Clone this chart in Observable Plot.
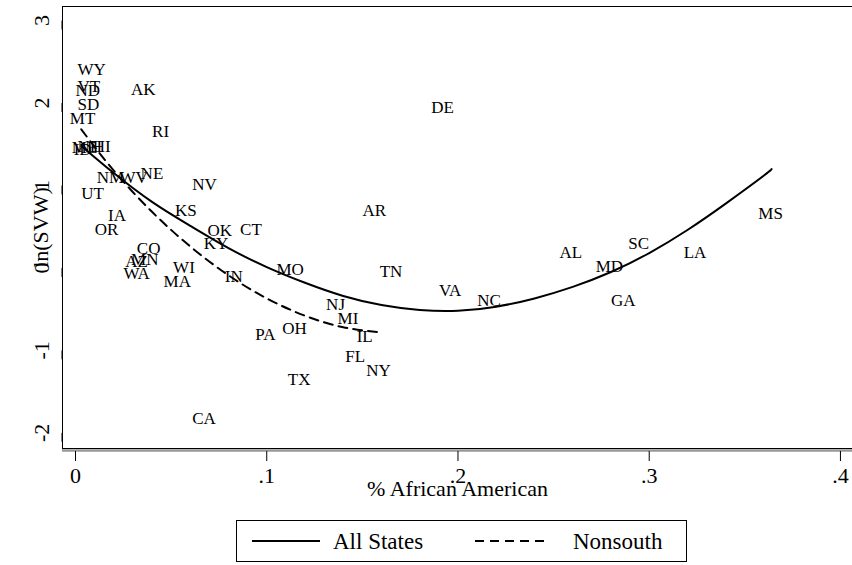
<!DOCTYPE html>
<html><head><meta charset="utf-8">
<script src="https://cdn.jsdelivr.net/npm/d3@7"></script>
<script src="https://cdn.jsdelivr.net/npm/@observablehq/plot@0.6"></script>
<style>
body{margin:0;background:#fff;font-family:'Liberation Serif','Times New Roman',serif;}
#wrap{position:relative;width:852px;height:565px;overflow:hidden;background:#fff;}
#chart{position:absolute;left:0;top:0;}
#legend{position:absolute;left:236px;top:520px;}
svg text{font-family:'Liberation Serif','Times New Roman',serif;}
</style></head><body><div id="wrap"><div id="chart"></div><div id="legend"></div></div>
<script>
// State labels, % African American (x) and ln(SVW) (y)
const states = ["WY","VT","ND","AK","SD","MT","DE","RI","ME","ID","NH","HI","NE","NM","WV","NV","UT","AR","KS","IA","OR","OK","CT","KY","CO","AZ","MN","WA","WI","MA","MO","TN","IN","VA","NC","NJ","MI","IL","PA","OH","FL","NY","TX","CA","AL","SC","MD","GA","LA","MS"];
const pctBlack = [0.000,0.000,-0.001,0.028,0.000,-0.004,0.185,0.039,-0.003,-0.002,0.000,0.008,0.033,0.010,0.022,0.060,0.002,0.149,0.051,0.016,0.009,0.068,0.085,0.066,0.031,0.025,0.028,0.024,0.050,0.045,0.104,0.158,0.077,0.189,0.209,0.130,0.136,0.146,0.093,0.107,0.140,0.151,0.110,0.060,0.252,0.288,0.271,0.279,0.317,0.356];
const lnSVW = [2.40,2.20,2.15,2.16,1.98,1.81,1.94,1.65,1.46,1.44,1.47,1.47,1.14,1.09,1.09,1.01,0.90,0.70,0.70,0.63,0.47,0.45,0.47,0.30,0.24,0.08,0.10,-0.07,0.01,-0.16,-0.02,-0.05,-0.11,-0.28,-0.39,-0.44,-0.61,-0.83,-0.81,-0.73,-1.07,-1.25,-1.35,-1.83,0.19,0.30,0.02,-0.39,0.19,0.66];

// Fitted curves
const fitAllX = [0.003,0.02,0.04,0.06,0.08,0.10,0.12,0.14,0.16,0.18,0.20,0.22,0.24,0.26,0.28,0.30,0.32,0.34,0.36,0.364];
const fitAllY = [1.48,1.15,0.80,0.51,0.24,0.01,-0.18,-0.34,-0.45,-0.51,-0.52,-0.47,-0.37,-0.23,-0.05,0.18,0.46,0.78,1.12,1.20];
const fitNonsouthX = [0.003,0.02,0.04,0.06,0.08,0.10,0.12,0.14,0.159];
const fitNonsouthY = [1.68,1.18,0.68,0.26,-0.09,-0.37,-0.58,-0.72,-0.78];

const xTicks = [0,0.1,0.2,0.3,0.4];
const yTicks = [-2,-1,0,1,2,3];
const xTitle = "% African American";
const yTitle = "ln(SVW)";
const legendLabels = ["All States","Nonsouth"];

const pts = states.map((s,i)=>({state:s,x:pctBlack[i],y:lnSVW[i]}));
const allFit = fitAllX.map((x,i)=>({x,y:fitAllY[i]}));
const nsFit = fitNonsouthX.map((x,i)=>({x,y:fitNonsouthY[i]}));
const font = "'Liberation Serif','Times New Roman',serif";
const xDom = [-0.0068, 0.4063], yDom = [-2.19, 3.17];

const chart = Plot.plot({
  width: 852,
  height: 505,
  marginLeft: 62,
  marginRight: 0,
  marginTop: 6,
  marginBottom: 57,
  style: {fontFamily: font, fontSize: "17px", background: "#fff", color: "#000"},
  x: {domain: xDom},
  y: {domain: yDom},
  marks: [
    Plot.ruleY([yDom[0]], {stroke: "#999", strokeWidth: 2.5, dy: 2}),
    Plot.ruleX([xDom[0]], {stroke: "#000", strokeWidth: 1}),
    Plot.ruleY([yDom[1], yDom[0]], {stroke: "#000", strokeWidth: 1}),
    Plot.axisY(yTicks, {anchor: "left", tickSize: 9, tickPadding: 12, rotate: -90, textAnchor: "middle", fontSize: 22, label: null, tickFormat: d => String(d)}),
    Plot.axisX(xTicks, {anchor: "bottom", tickSize: 10, tickPadding: 6, fontSize: 22, label: null, dy: 3, tickFormat: d => d === 0 ? "0" : String(d).replace(/^0\./, ".")}),
    Plot.text([yTitle], {frameAnchor: "left", dx: -22, rotate: -90, textAnchor: "middle", fontSize: 22}),
    Plot.text([xTitle], {frameAnchor: "bottom", dy: 47, fontSize: 22}),
    Plot.line(allFit, {x: "x", y: "y", curve: "natural", stroke: "#000", strokeWidth: 2}),
    Plot.line(nsFit, {x: "x", y: "y", curve: "natural", stroke: "#000", strokeWidth: 2, strokeDasharray: "9,6"}),
    Plot.text(pts, {x: "x", y: "y", text: "state", textAnchor: "start", dx: 2, fontSize: 17, fill: "#000"})
  ]
});
document.getElementById("chart").appendChild(chart);

// Legend box
const lg = d3.select("#legend").append("svg").attr("width", 452).attr("height", 42);
lg.append("rect").attr("x", 0.5).attr("y", 0.5).attr("width", 450).attr("height", 41)
  .attr("fill", "#fff").attr("stroke", "#000");
lg.append("line").attr("x1", 16).attr("x2", 84).attr("y1", 21).attr("y2", 21)
  .attr("stroke", "#000").attr("stroke-width", 2);
lg.append("text").attr("x", 97).attr("y", 29).attr("font-size", 23)
  .attr("font-family", font).text(legendLabels[0]);
lg.append("line").attr("x1", 239).attr("x2", 309).attr("y1", 21).attr("y2", 21)
  .attr("stroke", "#000").attr("stroke-width", 2).attr("stroke-dasharray", "9,6");
lg.append("text").attr("x", 337).attr("y", 29).attr("font-size", 23)
  .attr("font-family", font).text(legendLabels[1]);
</script>
</body></html>
